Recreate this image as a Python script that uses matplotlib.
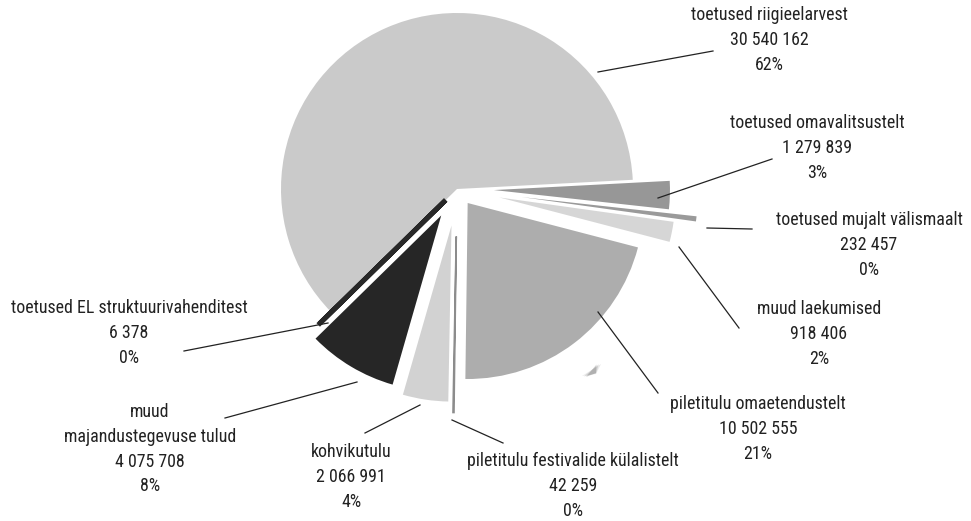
import matplotlib
matplotlib.use('Agg')
import matplotlib.pyplot as plt
from matplotlib import font_manager as fm
from matplotlib.patches import Polygon

# data (pie goes counter-clockwise from the right side)
names = ['toetused riigieelarvest', 'toetused EL struktuurivahenditest',
         'muud\nmajandustegevuse tulud', 'kohvikutulu',
         'piletitulu festivalide külalistelt', 'piletitulu omaetendustelt',
         'muud laekumised', 'toetused mujalt välismaalt',
         'toetused omavalitsustelt']
amounts = [30540162, 6378, 4075708, 2066991, 42259, 10502555, 918406, 232457, 1279839]
shares = ['62%', '0%', '8%', '4%', '0%', '21%', '2%', '0%', '3%']

colors = ['#cacaca', '#282828', '#262626', '#d2d2d2', '#8c8c8c',
          '#adadad', '#d6d6d6', '#9a9a9a', '#979797']
explode = [0.0, 0.09, 0.175, 0.21, 0.27, 0.10, 0.245, 0.37, 0.21]

# pick a narrow font if one is there
entries = [(f.name, f.stretch) for f in fm.fontManager.ttflist]
family, stretch = 'DejaVu Sans', 'normal'
for nm in ['Liberation Sans Narrow', 'Roboto Condensed', 'Open Sans Condensed',
           'Noto Sans Condensed']:
    if any(e[0] == nm for e in entries):
        family = nm
        break
else:
    for e in entries:
        if e[1] in ('condensed', 'semi-condensed', 'extra-condensed', 75, 87, 62):
            family, stretch = e
            break
plt.rcParams['font.family'] = [family, 'DejaVu Sans']

W, H = 971, 521
fig = plt.figure(figsize=(W / 100, H / 100), dpi=100)
ax = fig.add_axes([0, 0, 1, 1])

cx, cy, r = 457, H - 189, 176
wedges, _ = ax.pie(amounts, colors=colors, explode=[e * r for e in explode],
                   startangle=3, counterclock=True, center=(cx, cy), radius=r,
                   wedgeprops=dict(linewidth=0), frame=True)
ax.set_xlim(0, W)
ax.set_ylim(0, H)
ax.set_aspect('equal')
ax.axis('off')

# very thin slices get an outline so they stay visible
wedges[1].set_edgecolor(colors[1])
wedges[1].set_linewidth(3.5)
wedges[4].set_edgecolor(colors[4])
wedges[4].set_linewidth(1.2)

# small soft grey smudge under the big slice (scan artefact in the original)
for k, a in enumerate([0.12, 0.18, 0.25]):
    s = 1 - 0.25 * k
    pts = [(590 - 8 * s, 378 - 2 * s), (592 + 9 * s, 365 - 1 * s), (596, 372 + 2 * s)]
    ax.add_patch(Polygon([(px, H - py) for px, py in pts], closed=True,
                         facecolor='#555555', edgecolor='none', alpha=a))

# fit font size so the top label is ~158 px wide like the reference
renderer = fig.canvas.get_renderer()
probe = ax.text(0, 0, 'toetused riigieelarvest', fontsize=12.5, fontstretch=stretch)
wpx = probe.get_window_extent(renderer).width
probe.remove()
fsize = max(10.0, min(13.5, 12.5 * 158 / wpx))

# label position (first line centre, pixels from top-left) and leader line
label_xy = [(769, 15), (129, 308), (150, 412), (351, 452), (573, 461),
            (758, 404), (819, 309), (869, 220), (817, 123)]
leaders = [((598, 72), (713, 51)),
           ((328, 323), (184, 351)),
           ((357, 382), (225, 418)),
           ((420, 405), (365, 433)),
           ((452, 420), (503, 443)),
           ((598, 312), (658, 393)),
           ((679, 247), (739, 328)),
           ((707, 228), (752, 229)),
           ((658, 198), (772, 159))]

def fmt(n):
    return '{:,}'.format(n).replace(',', ' ')

line_px = 26.5
for i in range(len(names)):
    txt = '%s\n%s\n%s' % (names[i], fmt(amounts[i]), shares[i])
    x, y = label_xy[i]
    ax.text(x, H - y + 9, txt, ha='center', va='top', fontsize=fsize,
            fontstretch=stretch, color='#222222',
            linespacing=line_px / (fsize * 100 / 72))
    (x0, y0), (x1, y1) = leaders[i]
    ax.plot([x0, x1], [H - y0, H - y1], color='#222222', lw=0.9)

fig.savefig('out.png', dpi=100, facecolor='white')
